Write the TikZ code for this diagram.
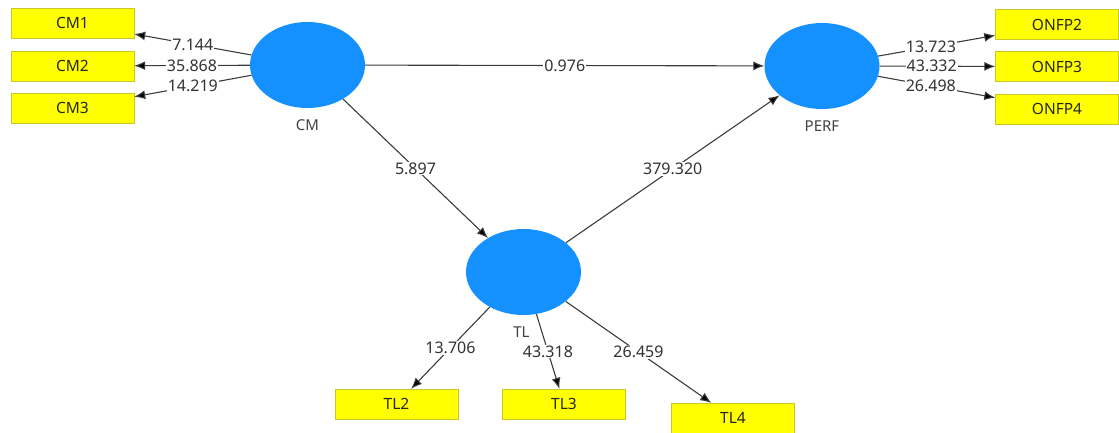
\documentclass[tikz,border=0pt]{standalone}
\usepackage{fontspec}
\setmainfont{Noto Sans}
\usetikzlibrary{shapes.geometric, arrows.meta, positioning}

\definecolor{latentblue}{RGB}{20,145,255}
\definecolor{itemyellow}{RGB}{255,255,0}
\definecolor{itemborder}{RGB}{200,200,40}
\definecolor{linkgray}{RGB}{60,60,60}

\begin{document}
\begin{tikzpicture}[x=1pt, y=-1pt,
    latent/.style={ellipse, fill=latentblue, minimum width=115pt, minimum height=86pt},
    latentname/.style={font=\fontsize{15}{17}\selectfont, text=black!75},
    item/.style={draw=itemborder, rectangle, fill=itemyellow, minimum width=123pt, minimum height=30pt, font=\fontsize{15.5}{17}\selectfont, text=black!85},
    link/.style={-{Latex[length=11pt,width=9pt,fill=black]}, draw=linkgray, line width=1.1pt},
    weight/.style={fill=white, inner sep=1pt, font=\fontsize{16}{18}\selectfont, text=black!80}]
    \useasboundingbox (0,0) rectangle (1119,432);

    % latent variables
    \node[latent] (cm) at (307.5,65) {};
    \node[latent] (perf) at (822,66) {};
    \node[latent] (tl) at (523.5,272) {};

    % indicators
    \node[item] (cm1) at (72.5,23) {CM1};
    \node[item] (cm2) at (72.5,66) {CM2};
    \node[item] (cm3) at (72.5,108) {CM3};
    \node[item] (onfp2) at (1057,24.5) {ONFP2};
    \node[item] (onfp3) at (1057,66.5) {ONFP3};
    \node[item] (onfp4) at (1057,109) {ONFP4};
    \node[item] (tl2) at (396.5,404) {TL2};
    \node[item] (tl3) at (564,404) {TL3};
    \node[item] (tl4) at (733,418) {TL4};

    % outer loadings
    \draw[link] (cm) -- node[weight] {7.144} (cm1);
    \draw[link] (cm) -- node[weight] {35.868} (cm2);
    \draw[link] (cm) -- node[weight] {14.219} (cm3);
    \draw[link] (perf) -- node[weight, pos=0.45] {13.723} (onfp2);
    \draw[link] (perf) -- node[weight, pos=0.45] {43.332} (onfp3);
    \draw[link] (perf) -- node[weight, pos=0.45] {26.498} (onfp4);
    \draw[link] (tl) -- node[weight] {13.706} (tl2);
    \draw[link] (tl) -- node[weight] {43.318} (tl3);
    \draw[link] (tl) -- node[weight] {26.459} (tl4);

    % inner model
    \draw[link] (cm) -- node[weight] {0.976} (perf);
    \draw[link] (cm) -- node[weight] {5.897} (tl);
    \draw[link] (tl) -- node[weight] {379.320} (perf);

    \node[latentname, below=8pt of cm] (cmname) {CM};
    \node[latentname, below=8pt of perf] (perfname) {PERF};
    \node[latentname, below=8pt of tl, xshift=-2pt] (tlname) {TL};
\end{tikzpicture}
\end{document}
